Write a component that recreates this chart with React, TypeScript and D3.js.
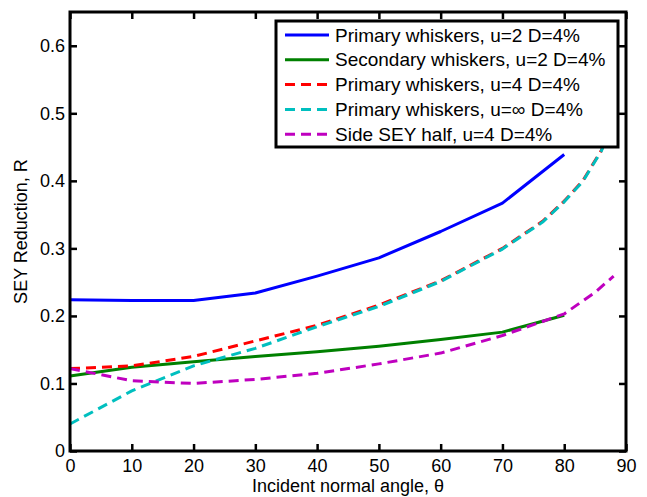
import React, { useEffect, useRef } from "react";
import * as d3 from "d3";

// values
const angles = [0, 10, 20, 30, 40, 50, 60, 70, 80];
const primaryU2 = [0.224, 0.223, 0.223, 0.234, 0.259, 0.286, 0.325, 0.367, 0.439];
const secondaryU2 = [0.111, 0.124, 0.132, 0.14, 0.147, 0.155, 0.165, 0.176, 0.201];

const anglesFine = [0, 10, 20, 30, 40, 50, 60, 70, 76.5, 80, 83, 86, 88];
const primaryU4 = [0.122, 0.126, 0.14, 0.163, 0.186, 0.216, 0.252, 0.3, 0.34, 0.37, 0.4, 0.445, 0.49];
const primaryUInf = [0.04, 0.089, 0.126, 0.152, 0.184, 0.214, 0.251, 0.299, 0.339, 0.369, 0.399, 0.444, 0.49];

const anglesSide = [0, 10, 20, 30, 40, 50, 60, 70, 80, 85, 88];
const sideHalfU4 = [0.122, 0.104, 0.1, 0.106, 0.115, 0.129, 0.145, 0.171, 0.203, 0.235, 0.259];

const xTicks = [0, 10, 20, 30, 40, 50, 60, 70, 80, 90];
const yTicks = [0, 0.1, 0.2, 0.3, 0.4, 0.5, 0.6];

const series = [
  { name: "Primary whiskers, u=2 D=4%", xs: angles, ys: primaryU2, color: "#0000ff", dash: null },
  { name: "Secondary whiskers, u=2 D=4%", xs: angles, ys: secondaryU2, color: "#008000", dash: null },
  { name: "Primary whiskers, u=4 D=4%", xs: anglesFine, ys: primaryU4, color: "#ff0000", dash: "10,6" },
  { name: "Primary whiskers, u=\u221e D=4%", xs: anglesFine, ys: primaryUInf, color: "#00bfbf", dash: "10,6" },
  { name: "Side SEY half, u=4 D=4%", xs: anglesSide, ys: sideHalfU4, color: "#bf00bf", dash: "10,6" },
];

const font = "'Liberation Sans', Arial, Helvetica, sans-serif";

export default function App() {
  const ref = useRef<SVGSVGElement | null>(null);

  useEffect(() => {
    const W = 647, H = 497;
    const margin = { top: 12, right: 21, bottom: 46, left: 70 };
    const w = W - margin.left - margin.right;
    const h = H - margin.top - margin.bottom;

    const svg = d3.select(ref.current);
    svg.selectAll("*").remove();
    svg.attr("width", W).attr("height", H);

    const g = svg.append("g").attr("transform", `translate(${margin.left},${margin.top})`);

    const x = d3.scaleLinear().domain([0, 90]).range([0, w]);
    const y = d3.scaleLinear().domain([0, 0.65]).range([h, 0]);

    const styleAxis = (sel: any, showText: boolean) => {
      sel.select(".domain").remove();
      sel.selectAll(".tick line").attr("stroke", "#000").attr("stroke-width", 2.5);
      sel.selectAll(".tick text")
        .attr("fill", "#000")
        .style("font-family", font)
        .style("font-size", "18px")
        .style("display", showText ? null : "none");
    };

    g.append("g")
      .attr("transform", `translate(0,${h})`)
      .call(d3.axisBottom(x).tickValues(xTicks).tickSizeInner(-7).tickSizeOuter(0).tickPadding(8).tickFormat((d: any) => String(d)))
      .call((s: any) => styleAxis(s, true));
    g.append("g")
      .call(d3.axisTop(x).tickValues(xTicks).tickSizeInner(-7).tickSizeOuter(0))
      .call((s: any) => styleAxis(s, false));
    g.append("g")
      .call(d3.axisLeft(y).tickValues(yTicks).tickSizeInner(-7).tickSizeOuter(0).tickPadding(5).tickFormat((d: any) => String(d)))
      .call((s: any) => styleAxis(s, true));
    g.append("g")
      .attr("transform", `translate(${w},0)`)
      .call(d3.axisRight(y).tickValues(yTicks).tickSizeInner(-7).tickSizeOuter(0))
      .call((s: any) => styleAxis(s, false));

    const line = d3.line<[number, number]>()
      .x(d => x(d[0]))
      .y(d => y(d[1]));

    series.forEach(s => {
      const pts = s.xs.map((v, i) => [v, s.ys[i]] as [number, number]);
      g.append("path")
        .datum(pts)
        .attr("d", line)
        .attr("fill", "none")
        .attr("stroke", s.color)
        .attr("stroke-width", 3)
        .attr("stroke-dasharray", s.dash)
        .attr("stroke-linejoin", "round");
    });

    // box
    g.append("rect")
      .attr("width", w).attr("height", h)
      .attr("fill", "none").attr("stroke", "#000").attr("stroke-width", 3);

    // legend
    const lg = svg.append("g");
    lg.append("rect")
      .attr("x", 276).attr("y", 21).attr("width", 342).attr("height", 126)
      .attr("fill", "#fff").attr("stroke", "#000").attr("stroke-width", 3);
    series.forEach((s, i) => {
      const ly = 35 + i * 24.8;
      lg.append("line")
        .attr("x1", 285).attr("x2", 329).attr("y1", ly).attr("y2", ly)
        .attr("stroke", s.color).attr("stroke-width", 3)
        .attr("stroke-dasharray", s.dash);
      lg.append("text")
        .attr("x", 335).attr("y", ly)
        .attr("dominant-baseline", "central")
        .style("font-family", font).style("font-size", "19px")
        .text(s.name);
    });

    svg.append("text")
      .attr("x", margin.left + w / 2).attr("y", 492)
      .attr("text-anchor", "middle")
      .style("font-family", font).style("font-size", "18px")
      .text("Incident normal angle, \u03b8");

    svg.append("text")
      .attr("transform", `translate(21,${margin.top + h / 2}) rotate(-90)`)
      .attr("text-anchor", "middle")
      .attr("dominant-baseline", "central")
      .style("font-family", font).style("font-size", "18px")
      .text("SEY Reduction, R");
  }, []);

  return (
    <svg ref={ref} style={{ position: "absolute", left: 0, top: 0, background: "#fff" }} />
  );
}
